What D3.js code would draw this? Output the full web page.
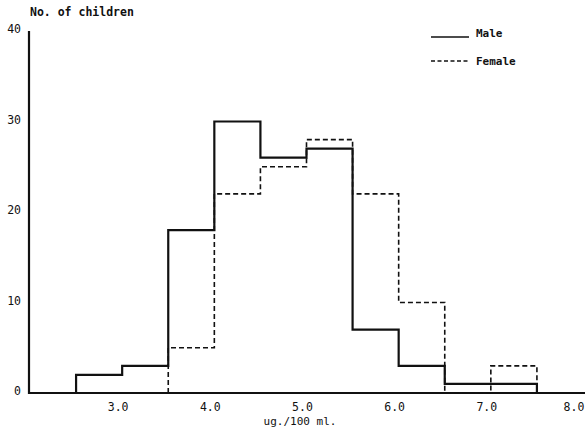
<!DOCTYPE html>
<html><head><meta charset="utf-8">
<script src="https://cdn.jsdelivr.net/npm/d3@7"></script>
<style>body{margin:0;background:#fff}svg{display:block}text{font-family:"DejaVu Sans Mono","Liberation Mono",monospace;fill:#111}</style>
</head><body>
<script>
const binEdges = [2.5, 3.0, 3.5, 4.0, 4.5, 5.0, 5.5, 6.0, 6.5, 7.0, 7.5];
const maleCounts = [2, 3, 18, 30, 26, 27, 7, 3, 1, 1];
const femaleCounts = [0, 0, 5, 22, 25, 28, 22, 10, 0, 3];
const xTicks = [3.0, 4.0, 5.0, 6.0, 7.0, 8.0];
const yTicks = [0, 10, 20, 30, 40];
const seriesNames = ["Male", "Female"];

const W = 587, H = 431;
const svg = d3.select("body").append("svg").attr("width", W).attr("height", H);
const x = d3.scaleLinear().domain([2, 8]).range([30, 583]);
const y = d3.scaleLinear().domain([0, 40]).range([393, 31]);

function stepPoints(counts) {
  let first = counts.findIndex(v => v > 0);
  let last = counts.length - 1;
  while (counts[last] === 0) last--;
  const pts = [[binEdges[first], 0]];
  for (let i = first; i <= last; i++) {
    pts.push([binEdges[i], counts[i]]);
    pts.push([binEdges[i + 1], counts[i]]);
  }
  pts.push([binEdges[last + 1], 0]);
  return pts;
}
const line = d3.line().x(d => x(d[0])).y(d => y(d[1]));

// axes
svg.append("line").attr("x1", x(2) - 1).attr("x2", x(2) - 1).attr("y1", y(40)).attr("y2", y(0) + 1)
  .attr("stroke", "#111").attr("stroke-width", 2.2);
svg.append("line").attr("x1", x(2) - 2).attr("x2", 585).attr("y1", y(0)).attr("y2", y(0))
  .attr("stroke", "#111").attr("stroke-width", 2.2);

svg.selectAll(".yt").data(yTicks).enter().append("text")
  .attr("x", 21).attr("y", d => y(d) + 2)
  .attr("text-anchor", "end").attr("font-size", 11.5).text(d => d);

svg.selectAll(".xt").data(xTicks).enter().append("text")
  .attr("x", d => Math.min(x(d) - 4, W - 13)).attr("y", 411)
  .attr("text-anchor", "middle").attr("font-size", 11.5).text(d => d.toFixed(1));

svg.append("text").attr("x", 300).attr("y", 425).attr("text-anchor", "middle")
  .attr("font-size", 11).text("ug./100 ml.");
svg.append("text").attr("x", 30).attr("y", 16).attr("font-size", 11.5).attr("font-weight", "bold")
  .text("No. of children");

// series
svg.append("path").attr("d", line(stepPoints(femaleCounts))).attr("fill", "none")
  .attr("stroke", "#111").attr("stroke-width", 1.6).attr("stroke-dasharray", "5,3");
svg.append("path").attr("d", line(stepPoints(maleCounts))).attr("fill", "none")
  .attr("stroke", "#111").attr("stroke-width", 2.2);

// legend
const lg = svg.append("g");
[0, 1].forEach(i => {
  const yy = i === 0 ? 37 : 61;
  lg.append("line").attr("x1", 431).attr("x2", 469).attr("y1", yy).attr("y2", yy)
    .attr("stroke", "#111").attr("stroke-width", i === 0 ? 1.5 : 1.4)
    .attr("stroke-dasharray", i === 0 ? null : "4,2.5");
  lg.append("text").attr("x", 476).attr("y", (i === 0 ? 33 : 61) + 4)
    .attr("font-size", 11).attr("font-weight", "bold").text(seriesNames[i]);
});
</script>
</body></html>
